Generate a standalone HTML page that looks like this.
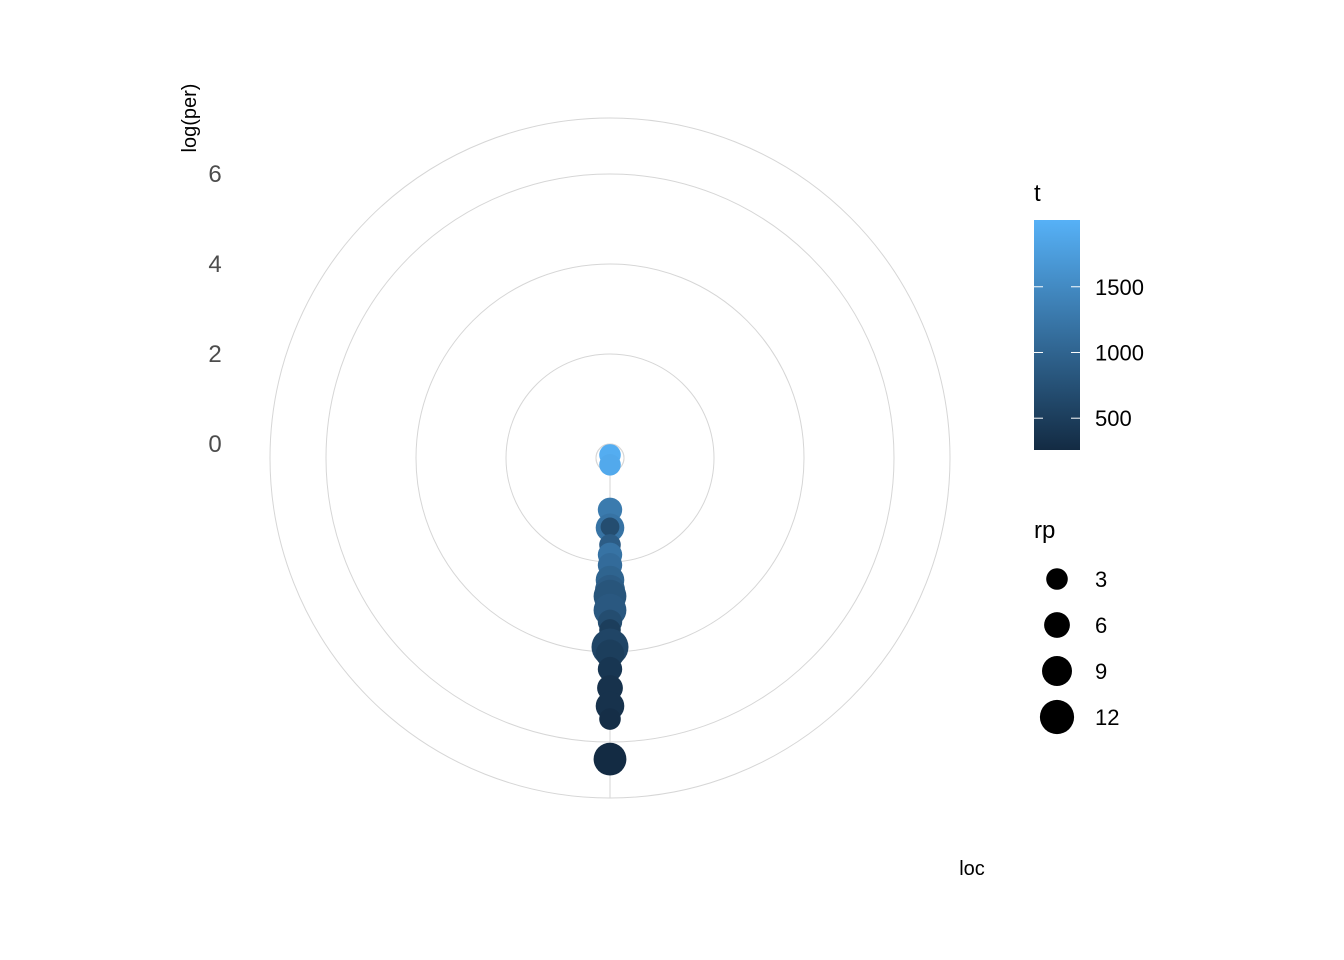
<!DOCTYPE html>
<html><head><meta charset="utf-8"><style>
body{margin:0;background:#fff;}
svg{display:block;font-family:"Liberation Sans",Arial,sans-serif;}
</style></head><body>
<svg id="chart" width="1344" height="960">
<defs><linearGradient id="tg" x1="0" y1="1" x2="0" y2="0"><stop offset="0" stop-color="#132B43"/><stop offset="1" stop-color="#56B1F7"/></linearGradient></defs>
<g id="grid"></g>
<g id="pts"></g>
<g id="yax"></g>
<text x="196" y="118" transform="rotate(-90 196 118)" text-anchor="middle" font-size="20">log(per)</text>
<text x="972" y="875" text-anchor="middle" font-size="20">loc</text>
<g>
<text x="1034" y="201" font-size="24">t</text>
<rect x="1034" y="220" width="46" height="230" fill="url(#tg)"/>
<g id="cticks"></g>
</g>
<g id="sleg">
<text x="1034" y="538" font-size="24">rp</text>
</g>
</svg>
<script>
const yTicks=[0,2,4,6];
const locs=[0,0,0,0,0,0,0,0,0,0,0,0,0,0,0,0,0,0,0,0,0];
const logPer=[-0.38,-0.16,0.84,1.24,1.22,1.62,1.84,2.07,2.4,2.62,2.76,3.07,3.33,3.51,3.89,4.04,4.38,4.8,5.2,5.49,6.38];
const tVals=[1950,1900,1300,1200,700,900,1200,1100,1000,900,800,850,700,500,600,500,400,350,350,300,260];
const rpVals=[3,3,5,8,1,3,5,5,8,9,11,11,5,3,14,8,5,6,8,3,11];
const legendT=[500,1000,1500];
const legendRp=[3,6,9,12];
const tMin=258,tMax=2008;
const cx=610,cy=458;
const NS="http://www.w3.org/2000/svg";
function rr(v){return 14+45*v;}
function sz(rp){return 8.7+0.7*rp;}
function col(t){const f=Math.max(0,Math.min(1,(t-tMin)/(tMax-tMin)));
const a=[0x13,0x2B,0x43],b=[0x56,0xB1,0xF7];
return 'rgb('+a.map((x,i)=>Math.round(x+(b[i]-x)*f)).join(',')+')';}
function mk(tag,at,p){const e=document.createElementNS(NS,tag);for(const k in at)e.setAttribute(k,at[k]);p.appendChild(e);return e;}
const grid=document.getElementById('grid');
[0].concat(yTicks).forEach(v=>{const c=mk('circle',{cx:cx,cy:cy,r:rr(v),fill:'none',stroke:'#d6d6d6','stroke-width':1},grid);

});
const outer=mk('circle',{cx:cx,cy:cy,r:340,fill:'none',stroke:'#d6d6d6','stroke-width':1},grid);


const sp=mk('line',{x1:cx,y1:cy,x2:cx,y2:cy+340,stroke:'#d6d6d6','stroke-width':1},grid);


const yax=document.getElementById('yax');
yTicks.forEach(v=>{const t=mk('text',{x:215,y:cy-rr(v)+8,'text-anchor':'middle','font-size':24,fill:'#4d4d4d'},yax);t.textContent=v;

});
const pts=document.getElementById('pts');
logPer.forEach((v,i)=>{const ang=Math.PI+(locs[i]||0);const r=rr(v);
const c=mk('circle',{cx:cx+r*Math.sin(ang),cy:cy-r*Math.cos(ang),r:sz(rpVals[i]),fill:col(tVals[i])},pts);

});
const ct=document.getElementById('cticks');
legendT.forEach(t=>{const y=450-(t-tMin)/(tMax-tMin)*230;
mk('line',{x1:1034,x2:1043,y1:y,y2:y,stroke:'#fff','stroke-width':1},ct);
mk('line',{x1:1071,x2:1080,y1:y,y2:y,stroke:'#fff','stroke-width':1},ct);
const tx=mk('text',{x:1095,y:y+8,'font-size':22},ct);tx.textContent=t;

});
const sl=document.getElementById('sleg');
legendRp.forEach((rp,i)=>{const y=579+i*46;
const c=mk('circle',{cx:1057,cy:y,r:sz(rp),fill:'#000'},sl);


const tx=mk('text',{x:1095,y:y+8,'font-size':22},sl);tx.textContent=rp;

});
</script>
</body></html>
